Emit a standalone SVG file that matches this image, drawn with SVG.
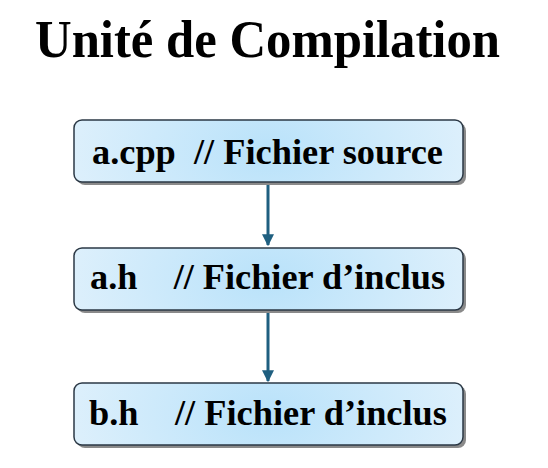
<svg xmlns="http://www.w3.org/2000/svg" width="548" height="468" viewBox="0 0 548 468">
<defs>
<radialGradient id="g" cx="0.5" cy="0.5" r="0.6" gradientTransform="translate(0.5 0.5) scale(1 4) translate(-0.5 -0.5)">
<stop offset="0" stop-color="#b9e2fa"/>
<stop offset="1" stop-color="#e3f2fc"/>
</radialGradient>
<marker id="ah" viewBox="0 0 10 10" refX="9" refY="5" markerWidth="4" markerHeight="4" orient="auto" markerUnits="strokeWidth">
<path d="M0,0 L10,5 L0,10 z" fill="#1f5f80"/>
</marker>
</defs>
<style>
.t{font-family:"Liberation Serif","Times New Roman",serif;font-weight:bold;fill:#000;white-space:pre}
.title{font-size:52px}
.lbl{font-size:36px}
.box{fill:url(#g);stroke:#2b3845;stroke-width:1.5}
.sh{fill:#8a8a8a}
.c{stroke:#1f5f80;stroke-width:3;fill:none;marker-end:url(#ah)}
</style>
<rect width="548" height="468" fill="#fff"/>
<text class="t title" x="35" y="57" textLength="465" lengthAdjust="spacingAndGlyphs">Unité de Compilation</text>
<g id="connectors">
<line class="c" x1="268" y1="183" x2="268" y2="245"/>
<line class="c" x1="268" y1="310" x2="268" y2="381"/>
</g>
<g id="n1">
<rect class="sh" x="77" y="123" width="389" height="62" rx="8"/>
<rect class="box" x="74" y="120" width="389" height="62" rx="8"/>
<text class="t lbl" x="92" y="164" textLength="351" lengthAdjust="spacingAndGlyphs" xml:space="preserve">a.cpp  // Fichier source</text>
</g>
<g id="n2">
<rect class="sh" x="77" y="251" width="389" height="62" rx="8"/>
<rect class="box" x="74" y="248" width="389" height="62" rx="8"/>
<text class="t lbl" x="90" y="289" textLength="355" lengthAdjust="spacingAndGlyphs" xml:space="preserve">a.h    // Fichier d’inclus</text>
</g>
<g id="n3">
<rect class="sh" x="77" y="386" width="389" height="62" rx="8"/>
<rect class="box" x="74" y="383" width="389" height="62" rx="8"/>
<text class="t lbl" x="89" y="425" textLength="358" lengthAdjust="spacingAndGlyphs" xml:space="preserve">b.h    // Fichier d’inclus</text>
</g>
</svg>
